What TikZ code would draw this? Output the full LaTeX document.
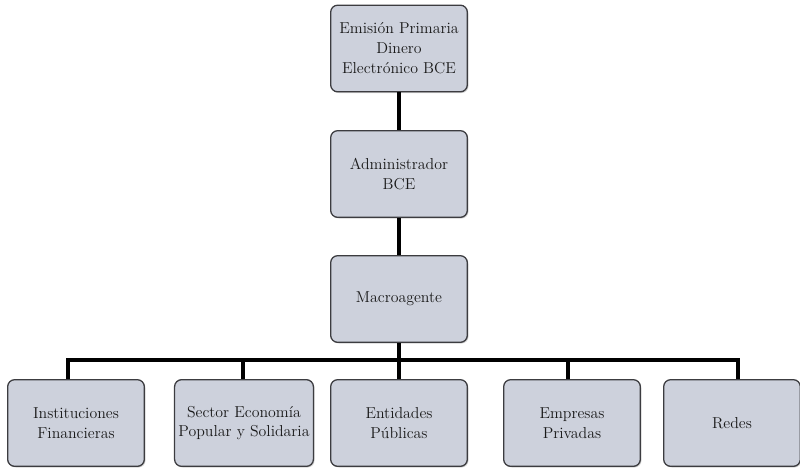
\documentclass[tikz,border=0pt]{standalone}
\usepackage{xcolor}
\usepackage{tikz}
\usetikzlibrary{positioning}
\usetikzlibrary{shadows}

\definecolor{cajagris}{HTML}{CDD1DC}
\definecolor{bordegris}{HTML}{3C3C40}

\begin{document}
\begin{tikzpicture}[x=0.03cm, y=-0.03cm,
	caja/.style = { rectangle, rounded corners = 6pt, draw = bordegris, line width = 1.1pt, fill = cajagris, minimum width = 4.1cm, minimum height = 2.6cm, align = center, text = black!90, font = \fontsize{13.5}{17}\selectfont, drop shadow = {shadow xshift = 1pt, shadow yshift = -1pt, opacity = 0.35} },
	linea/.style = { line width = 3.2pt, black },
	]
	\useasboundingbox (0,0) rectangle (800,469);
	\node[caja] (Emision) at (399,48.5) {Emisión Primaria\\Dinero\\Electrónico BCE};
	\node[caja] (Admin) at (399,174) {Administrador\\BCE};
	\node[caja] (Macro) at (399,299) {Macroagente};
	\node[caja] (Inst) at (76,423) {Instituciones\\Financieras};
	\node[caja] (Sector) at (244,423) {Sector Economía\\Popular y Solidaria};
	\node[caja] (Entidades) at (399,423) {Entidades\\Públicas};
	\node[caja] (Empresas) at (572,423) {Empresas\\Privadas};
	\node[caja] (Redes) at (732,423) {Redes};
	\coordinate (Barra) at (399,360);
	\draw[linea] (Emision) -- (Admin);
	\draw[linea] (Admin) -- (Macro);
	\draw[linea] (Macro) -- (Entidades);
	\draw[linea] (Barra) -| ([xshift=-0.24cm]Inst.north);
	\draw[linea] (Barra) -| ([xshift=-0.03cm]Sector.north);
	\draw[linea] (Barra) -| ([xshift=-0.12cm]Empresas.north);
	\draw[linea] (Barra) -| ([xshift=0.18cm]Redes.north);
\end{tikzpicture}
\end{document}
